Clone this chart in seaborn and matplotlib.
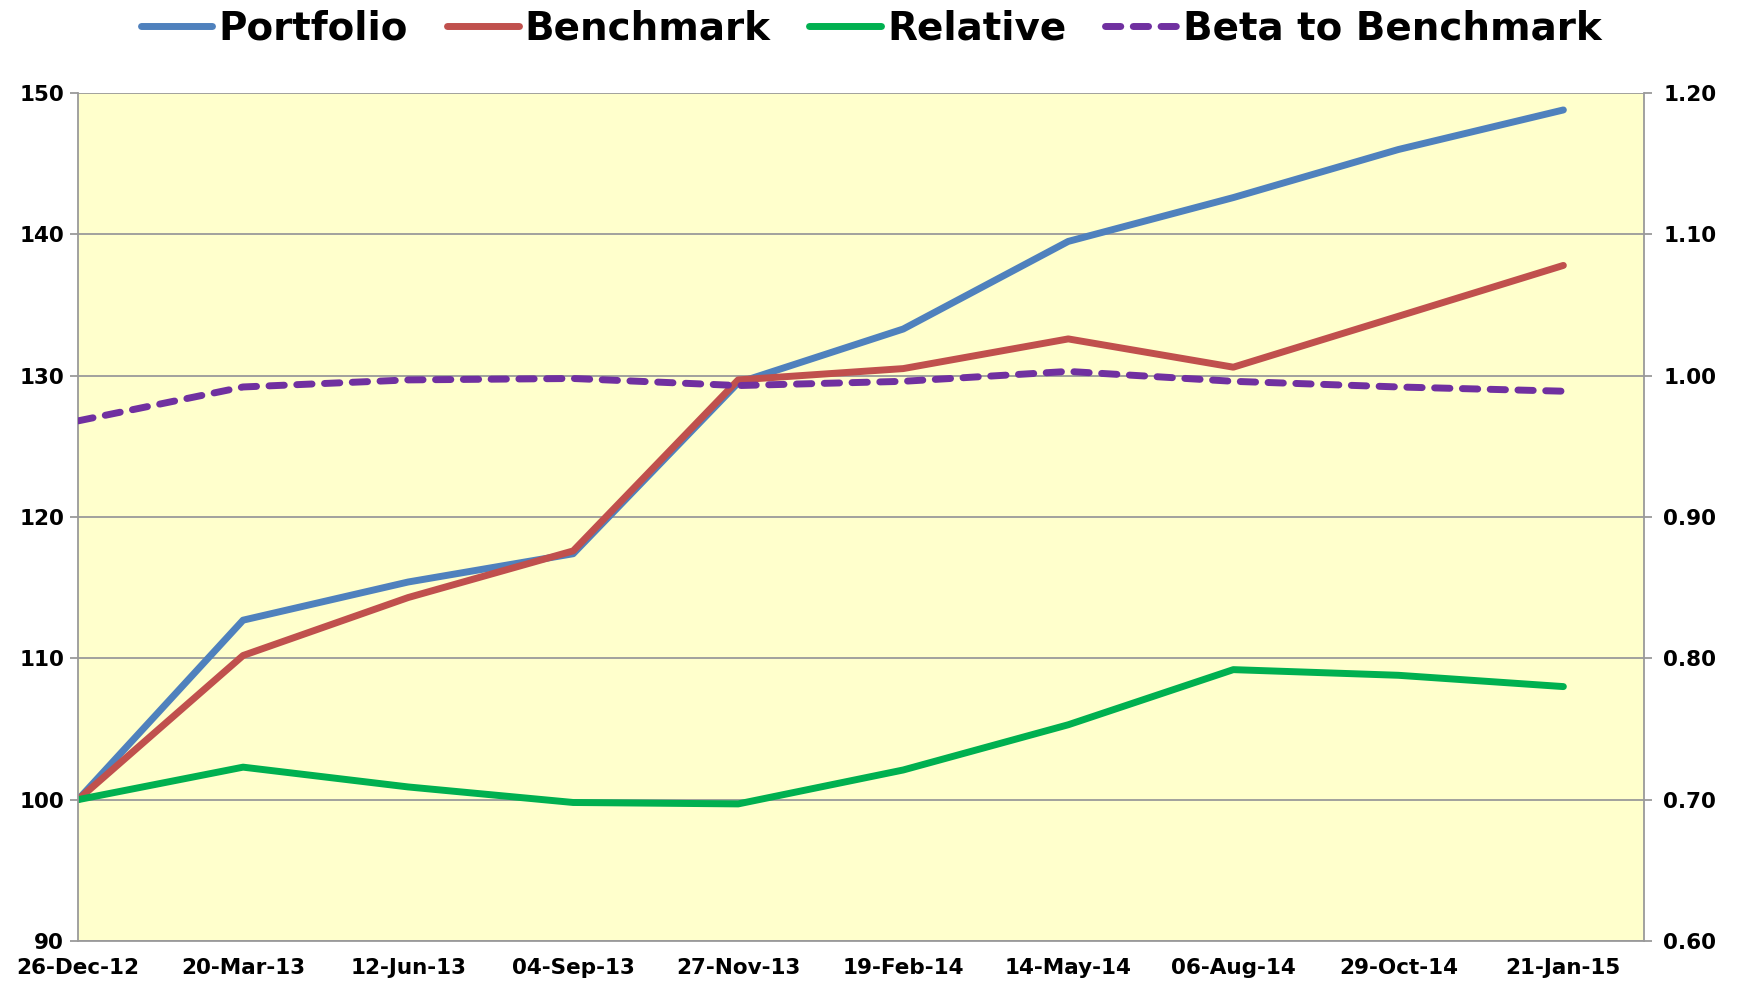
import numpy as np
import pandas as pd
import matplotlib
matplotlib.use("Agg")
import matplotlib.pyplot as plt
import matplotlib.dates as mdates
import seaborn as sns

# data
dates = pd.date_range("2012-12-26", periods=10, freq="84D")
portfolio = [100.0, 112.7, 115.4, 117.4, 129.5, 133.3, 139.5, 142.6, 146.0, 148.8]
benchmark = [100.0, 110.2, 114.3, 117.6, 129.7, 130.5, 132.6, 130.6, 134.2, 137.8]
relative = [100.0, 102.3, 100.9, 99.8, 99.7, 102.1, 105.3, 109.2, 108.8, 108.0]
beta = [0.968, 0.992, 0.997, 0.998, 0.993, 0.996, 1.003, 0.996, 0.992, 0.989]

series_names = ["Portfolio", "Benchmark", "Relative"]
colors = {"Portfolio": "#4F81BD", "Benchmark": "#C0504D", "Relative": "#00B050"}
beta_color = "#7030A0"

df = pd.DataFrame({"Date": dates, "Portfolio": portfolio,
                   "Benchmark": benchmark, "Relative": relative})
long_df = df.melt(id_vars="Date", var_name="Series", value_name="Value")
beta_df = pd.DataFrame({"Date": dates, "Beta": beta})

sns.set_style("white")
plt.rcParams["font.family"] = ["DejaVu Sans"]
plt.rcParams["font.weight"] = "bold"
plt.rcParams["text.color"] = "black"
plt.rcParams["xtick.labelcolor"] = "black"
plt.rcParams["ytick.labelcolor"] = "black"

fig = plt.figure(figsize=(17.42, 9.84), dpi=100)
ax = fig.add_axes([0.0448, 0.0437, 0.8989, 0.8618])
ax.set_facecolor("#FFFFCC")

lw = 5.0
sns.lineplot(data=long_df, x="Date", y="Value", hue="Series", hue_order=series_names,
             palette=colors, linewidth=lw, ax=ax, legend=False)
for ln in ax.lines:
    ln.set_solid_capstyle("round")
    ln.set_solid_joinstyle("round")

ax2 = ax.twinx()
sns.lineplot(data=beta_df, x="Date", y="Beta", color=beta_color, linewidth=lw,
             ax=ax2, legend=False)
ax2.lines[0].set_dashes((2.2, 1.8))
ax2.lines[0].set_dash_capstyle("round")

# axes limits and ticks
ax.set_xlim(dates[0], dates[-1] + pd.Timedelta(days=41))
ax.set_ylim(90, 150)
ax2.set_ylim(0.60, 1.20)
ax.set_yticks(np.arange(90, 151, 10))
ax2.set_yticks(np.arange(0.60, 1.201, 0.10))
ax2.set_yticklabels([f"{v:.2f}" for v in np.arange(0.60, 1.201, 0.10)])
ax.set_xticks(dates)
ax.xaxis.set_major_formatter(mdates.DateFormatter("%d-%b-%y"))
ax.set_xlabel("")
ax.set_ylabel("")
ax2.set_ylabel("")

grid_c = "#9A9A9A"
ax.grid(axis="y", color=grid_c, linewidth=1.3)
ax.set_axisbelow(True)
for a in (ax, ax2):
    for s in a.spines.values():
        s.set_visible(False)
for a, side in ((ax, "left"), (ax, "bottom"), (ax2, "right")):
    a.spines[side].set_visible(True)
    a.spines[side].set_color(grid_c)
    a.spines[side].set_linewidth(1.3)

ax.tick_params(axis="both", direction="out", length=6, width=1.3, color=grid_c,
               labelsize=15.5, pad=4)
ax.tick_params(axis="x", pad=6)
ax2.tick_params(axis="y", direction="out", length=6, width=1.3, color=grid_c,
                labelsize=15.5, pad=8)
for lab in ax.get_xticklabels() + ax.get_yticklabels() + ax2.get_yticklabels():
    lab.set_fontweight("bold")

# legend across the top
handles = [plt.Line2D([], [], color=colors[n], linewidth=lw, solid_capstyle="round")
           for n in series_names]
handles.append(plt.Line2D([], [], color=beta_color, linewidth=lw, dashes=(2.2, 1.8),
                          dash_capstyle="round"))
labels = series_names + ["Beta to Benchmark"]
fig.legend(handles, labels, loc="upper center", bbox_to_anchor=(0.5, 1.026), ncol=4,
           frameon=False, prop={"size": 28, "weight": "bold"}, handlelength=1.85,
           handletextpad=0.15, columnspacing=1.0)

fig.savefig("out.png", dpi=100)
